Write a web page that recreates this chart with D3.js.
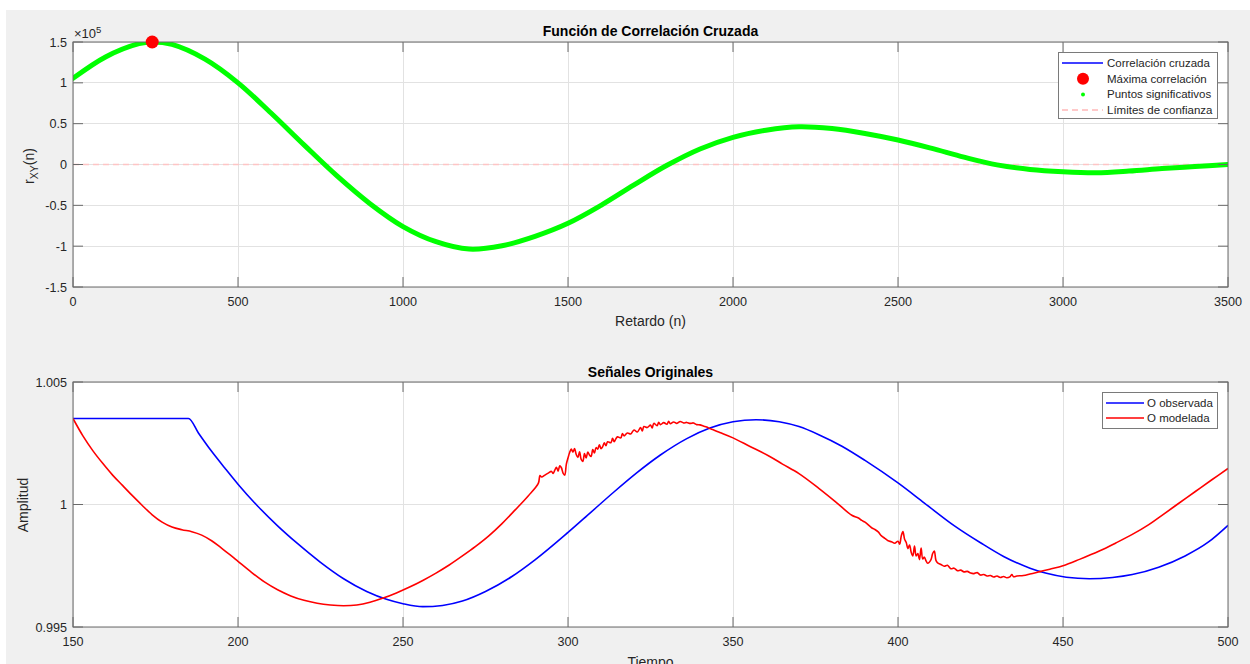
<!DOCTYPE html>
<html>
<head>
<meta charset="utf-8">
<script src="https://cdn.jsdelivr.net/npm/d3@7"></script>
<style>
  html, body { margin: 0; padding: 0; background: #ffffff; }
  svg { display: block; font-family: "Liberation Sans", Arial, Helvetica, sans-serif; }
</style>
</head>
<body>
<svg id="fig" width="1250" height="664"></svg>
<script>
// ---------- Cross-correlation r_XY(n) (units of 1e5) ----------
const corrLags = [0, 100, 200, 240, 300, 400, 500, 600, 700, 800, 900, 1000, 1100, 1200, 1300,
  1400, 1500, 1600, 1700, 1800, 1900, 2000, 2100, 2200, 2300, 2400, 2500, 2600, 2700, 2800,
  2900, 3000, 3100, 3200, 3300, 3400, 3500];
const corrValues = [1.055, 1.32, 1.48, 1.50, 1.47, 1.29, 1.00, 0.63, 0.24, -0.14, -0.48, -0.76,
  -0.945, -1.035, -0.995, -0.88, -0.72, -0.50, -0.25, -0.01, 0.19, 0.333, 0.42, 0.463, 0.44,
  0.38, 0.30, 0.20, 0.09, -0.005, -0.06, -0.088, -0.10, -0.08, -0.05, -0.025, 0.0];
const corrScale = 1e5;
const maxLag = 240;
const maxValue = 1.50;
const confLimits = [-0.003, 0.003];
const lagTicks = [0, 500, 1000, 1500, 2000, 2500, 3000, 3500];
const corrTicks = [-1.5, -1, -0.5, 0, 0.5, 1, 1.5];

// ---------- Original signals: [time, amplitude] ----------
const obsSignal = [
  [150, 1.00351], [185, 1.00351], [188, 1.00292], [192, 1.00217], [196, 1.00149], [200, 1.00083],
  [206, 0.99993], [212, 0.99913], [218, 0.99841], [225, 0.99764], [232, 0.99697], [239, 0.99645],
  [245, 0.99613], [250, 0.99595], [256, 0.99583], [262, 0.99588], [268, 0.99606], [275, 0.99645],
  [283, 0.99706], [290, 0.99774], [300, 0.99886], [307, 0.99969], [314, 1.00052], [321, 1.00131],
  [328, 1.00202], [336, 1.00269], [343, 1.00312], [350, 1.00338], [357, 1.00346], [364, 1.00338],
  [370, 1.00318], [376, 1.00285], [383, 1.00238], [390, 1.00180], [400, 1.00088], [408, 1.00006],
  [417, 0.99914], [425, 0.99844], [432, 0.99788], [440, 0.99740], [445, 0.99719], [451, 0.99703],
  [458, 0.99697], [465, 0.99702], [471, 0.99714], [479, 0.99744], [487, 0.99790], [494, 0.99846],
  [500, 0.99915]
];

const modSignal = [
  [150, 1.00351], [153, 1.00280], [156, 1.00220], [159, 1.00168], [162, 1.00120], [165, 1.00078],
  [168, 1.00036], [171, 0.99996], [174, 0.99958], [177, 0.99928], [180, 0.99908], [183, 0.99897],
  [186, 0.99889], [189, 0.99875], [192, 0.99852], [195, 0.99822], [198, 0.99790], [200, 0.99768],
  [204, 0.99724], [208, 0.99684], [212, 0.99652], [216, 0.99627], [220, 0.99609], [224, 0.99597],
  [228, 0.99590], [232, 0.99587], [236, 0.99590], [240, 0.99601], [244, 0.99618], [248, 0.99639],
  [252, 0.99663], [256, 0.99690], [260, 0.99720], [264, 0.99753], [268, 0.99790], [272, 0.99829],
  [276, 0.99872], [280, 0.99922], [284, 0.99978], [288, 1.00036], [291, 1.00086],
  // irregular stretch while the model climbs to its crest
  [291.5, 1.00118], [292, 1.00112], [293, 1.00120], [294, 1.00128], [295, 1.00135], [295.5, 1.00127],
  [296, 1.00140], [296.5, 1.00152], [297, 1.00136], [297.5, 1.00158], [298, 1.00150], [298.5, 1.00128],
  [299, 1.00120], [299.5, 1.00165], [300, 1.00190], [300.5, 1.00212], [301, 1.00226], [301.5, 1.00214],
  [302, 1.00228], [302.5, 1.00204], [303, 1.00192], [303.5, 1.00215], [304, 1.00184], [304.5, 1.00176],
  [305, 1.00208], [305.5, 1.00190], [306, 1.00214], [306.5, 1.00202], [307, 1.00196], [307.5, 1.00224],
  [308, 1.00210], [308.5, 1.00232], [309, 1.00226], [309.5, 1.00244], [310, 1.00228], [310.5, 1.00236],
  [311, 1.00252], [311.5, 1.00240], [312, 1.00256], [313, 1.00252], [313.5, 1.00270], [314, 1.00256],
  [314.5, 1.00268], [315, 1.00276], [316, 1.00272], [316.5, 1.00290], [317, 1.00280], [318, 1.00292],
  [319, 1.00288], [320, 1.00304], [321, 1.00296], [322, 1.00314], [322.5, 1.00300], [323, 1.00318],
  [324, 1.00314], [325, 1.00324], [325.5, 1.00312], [326, 1.00331], [327, 1.00322], [327.5, 1.00336],
  [328, 1.00326], [329, 1.00334], [330, 1.00328], [330.5, 1.00340], [331, 1.00330], [332, 1.00337],
  [333, 1.00331], [334, 1.00339], [335, 1.00333], [336, 1.00335], [337, 1.00331], [338, 1.00333],
  [339, 1.00326], [340, 1.00325], [341, 1.00320], [342, 1.00316], [343, 1.00310], [344, 1.00305],
  [346, 1.00294], [350, 1.00272], [355, 1.00238], [361, 1.00197], [365, 1.00165], [370, 1.00126],
  [376, 1.00066], [381, 1.00012], [386, 0.99956], [388, 0.99945], [389, 0.99935], [390, 0.99928],
  // irregular stretch on the way down
  [392, 0.99905], [393, 0.99898], [394, 0.99888], [395, 0.99872], [396, 0.99862], [397, 0.99852],
  [398, 0.99848], [399, 0.99842], [400, 0.99850], [400.5, 0.99838], [401, 0.99872], [401.5, 0.99890],
  [402, 0.99858], [402.5, 0.99845], [403, 0.99820], [403.5, 0.99835], [404, 0.99805], [404.5, 0.99790],
  [405, 0.99830], [405.5, 0.99790], [406, 0.99800], [406.5, 0.99775], [407, 0.99822], [407.5, 0.99778],
  [408, 0.99785], [408.5, 0.99770], [409, 0.99760], [410, 0.99775], [410.5, 0.99800], [411, 0.99810],
  [411.5, 0.99772], [412, 0.99762], [413, 0.99755], [414, 0.99748], [415, 0.99752], [416, 0.99738],
  [417, 0.99740], [418, 0.99730], [419, 0.99732], [420, 0.99725], [421, 0.99727], [422, 0.99720],
  [423, 0.99718], [424, 0.99722], [425, 0.99712], [426, 0.99714], [427, 0.99708], [428, 0.99710],
  [429, 0.99704], [430, 0.99708], [431, 0.99702], [432, 0.99706], [433, 0.99701], [434, 0.99706],
  [434.5, 0.99714], [435, 0.99705], [436, 0.99708], [438, 0.99710], [440, 0.99716], [443, 0.99726],
  [446, 0.99736], [450, 0.99750], [455, 0.99776], [461, 0.99810], [466, 0.99843], [471, 0.99878],
  [476, 0.99918], [480, 0.99956], [485, 1.00004], [490, 1.00052], [495, 1.00100], [500, 1.00147]
];
const timeTicks = [150, 200, 250, 300, 350, 400, 450, 500];
const ampTicks = [0.995, 1, 1.005];

// ---------- Figure ----------
const W = 1250, H = 664;
const svg = d3.select("#fig");
svg.append("rect").attr("x", 6).attr("y", 10).attr("width", W - 6).attr("height", H - 10)
  .attr("fill", "#f0f0f0");

const AXIS_COLOR = "#6a6a6a";
const GRID_COLOR = "#e2e2e2";
const TEXT_COLOR = "#262626";
const TICK_FONT = 12.6;
const TICK_LEN = 10;

function drawAxes(box, x, y, xTicks, yTicks, xFmt, yFmt, id) {
  const g = svg.append("g");
  g.append("rect").attr("x", box.x0).attr("y", box.y0)
    .attr("width", box.x1 - box.x0).attr("height", box.y1 - box.y0).attr("fill", "#ffffff");
  // grid
  g.selectAll(".gx").data(xTicks).join("line")
    .attr("x1", d => x(d)).attr("x2", d => x(d)).attr("y1", box.y0).attr("y2", box.y1)
    .attr("stroke", GRID_COLOR).attr("stroke-width", 1).attr("shape-rendering", "crispEdges");
  g.selectAll(".gy").data(yTicks).join("line")
    .attr("y1", d => y(d)).attr("y2", d => y(d)).attr("x1", box.x0).attr("x2", box.x1)
    .attr("stroke", GRID_COLOR).attr("stroke-width", 1).attr("shape-rendering", "crispEdges");
  svg.append("clipPath").attr("id", id).append("rect")
    .attr("x", box.x0).attr("y", box.y0).attr("width", box.x1 - box.x0).attr("height", box.y1 - box.y0);
  const plot = svg.append("g").attr("clip-path", `url(#${id})`);
  const frame = svg.append("g");
  frame.append("rect").attr("x", box.x0).attr("y", box.y0)
    .attr("width", box.x1 - box.x0).attr("height", box.y1 - box.y0)
    .attr("fill", "none").attr("stroke", AXIS_COLOR).attr("stroke-width", 1);
  // inward ticks on all four sides
  xTicks.forEach(t => {
    frame.append("line").attr("x1", x(t)).attr("x2", x(t)).attr("y1", box.y1).attr("y2", box.y1 - TICK_LEN)
      .attr("stroke", AXIS_COLOR);
    frame.append("line").attr("x1", x(t)).attr("x2", x(t)).attr("y1", box.y0).attr("y2", box.y0 + TICK_LEN)
      .attr("stroke", AXIS_COLOR);
  });
  yTicks.forEach(t => {
    frame.append("line").attr("y1", y(t)).attr("y2", y(t)).attr("x1", box.x0).attr("x2", box.x0 + TICK_LEN)
      .attr("stroke", AXIS_COLOR);
    frame.append("line").attr("y1", y(t)).attr("y2", y(t)).attr("x1", box.x1).attr("x2", box.x1 - TICK_LEN)
      .attr("stroke", AXIS_COLOR);
  });
  frame.selectAll(".xl").data(xTicks).join("text")
    .attr("x", d => x(d)).attr("y", box.y1 + 19).attr("text-anchor", "middle")
    .attr("font-size", TICK_FONT).attr("fill", TEXT_COLOR).text(xFmt);
  frame.selectAll(".yl").data(yTicks).join("text")
    .attr("x", box.x0 - 6).attr("y", d => y(d) + 4.5).attr("text-anchor", "end")
    .attr("font-size", TICK_FONT).attr("fill", TEXT_COLOR).text(yFmt);
  return { plot, frame };
}

function addTitle(text, cx, yBase) {
  svg.append("text").attr("x", cx).attr("y", yBase).attr("text-anchor", "middle")
    .attr("font-size", 14).attr("font-weight", "bold").attr("fill", "#000").text(text);
}

// ---------- Top: cross-correlation ----------
const box1 = { x0: 73, x1: 1228, y0: 42, y1: 287 };
const x1 = d3.scaleLinear().domain([0, 3500]).range([box1.x0, box1.x1]);
const y1 = d3.scaleLinear().domain([-1.5 * corrScale, 1.5 * corrScale]).range([box1.y1, box1.y0]);
const ax1 = drawAxes(box1, x1, y1, lagTicks, corrTicks.map(v => v * corrScale),
  d => String(d), d => String(+(d / corrScale).toFixed(1)), "clipTop");

const corrData = corrLags.map((l, i) => ({ x: l, y: corrValues[i] * corrScale }));
const corrLine = d3.line().x(d => x1(d.x)).y(d => y1(d.y)).curve(d3.curveCatmullRom.alpha(0.5));

confLimits.forEach(c => {
  ax1.plot.append("line").attr("x1", box1.x0).attr("x2", box1.x1)
    .attr("y1", y1(c * corrScale)).attr("y2", y1(c * corrScale))
    .attr("stroke", "#ffc4c4").attr("stroke-width", 1.2).attr("stroke-dasharray", "6,4");
});
ax1.plot.append("path").datum(corrData).attr("d", corrLine)
  .attr("fill", "none").attr("stroke", "#0000ff").attr("stroke-width", 1.5);
ax1.plot.append("path").datum(corrData).attr("d", corrLine)
  .attr("fill", "none").attr("stroke", "#00ff00").attr("stroke-width", 5)
  .attr("stroke-linecap", "round").attr("stroke-linejoin", "round");
svg.append("circle").attr("cx", x1(maxLag)).attr("cy", y1(maxValue * corrScale)).attr("r", 6.5)
  .attr("fill", "#ff0000");

// exponent label
const expo = svg.append("text").attr("x", 74).attr("y", 38).attr("font-size", 13)
  .attr("fill", TEXT_COLOR);
expo.append("tspan").text("\u00d710");
expo.append("tspan").attr("font-size", 9.5).attr("dy", -5.5).text("5");

addTitle("Función de Correlación Cruzada", (box1.x0 + box1.x1) / 2, 36);
svg.append("text").attr("x", (box1.x0 + box1.x1) / 2).attr("y", 326).attr("text-anchor", "middle")
  .attr("font-size", 14).attr("fill", TEXT_COLOR).text("Retardo (n)");
const yl1 = svg.append("text").attr("transform", "translate(34,166) rotate(-90)")
  .attr("text-anchor", "middle").attr("font-size", 14).attr("fill", TEXT_COLOR);
yl1.append("tspan").text("r");
yl1.append("tspan").attr("font-size", 10.5).attr("dy", 4).text("XY");
yl1.append("tspan").attr("dy", -4).text("(n)");

// legend (top)
const leg1 = svg.append("g");
leg1.append("rect").attr("x", 1058.5).attr("y", 52.5).attr("width", 159).attr("height", 66)
  .attr("fill", "#fff").attr("stroke", "#7a7a7a").attr("stroke-width", 1);
const legRows1 = [
  { label: "Correlación cruzada", kind: "line", color: "#0000ff" },
  { label: "Máxima correlación", kind: "bigdot", color: "#ff0000" },
  { label: "Puntos significativos", kind: "dot", color: "#00ff00" },
  { label: "Límites de confianza", kind: "dash", color: "#ffb8b8" }
];
legRows1.forEach((r, i) => {
  const cy = 63 + i * 15.7;
  if (r.kind === "line") leg1.append("line").attr("x1", 1062).attr("x2", 1103).attr("y1", cy).attr("y2", cy)
    .attr("stroke", r.color).attr("stroke-width", 1.5);
  if (r.kind === "dash") leg1.append("line").attr("x1", 1062).attr("x2", 1103).attr("y1", cy).attr("y2", cy)
    .attr("stroke", r.color).attr("stroke-width", 1.5).attr("stroke-dasharray", "6,4");
  if (r.kind === "bigdot") leg1.append("circle").attr("cx", 1083).attr("cy", cy).attr("r", 6)
    .attr("fill", r.color);
  if (r.kind === "dot") leg1.append("circle").attr("cx", 1083).attr("cy", cy).attr("r", 2)
    .attr("fill", r.color);
  leg1.append("text").attr("x", 1107).attr("y", cy + 4).attr("font-size", 11.5)
    .attr("fill", TEXT_COLOR).text(r.label);
});

// ---------- Bottom: original signals ----------
const box2 = { x0: 73, x1: 1228, y0: 382, y1: 627 };
const x2 = d3.scaleLinear().domain([150, 500]).range([box2.x0, box2.x1]);
const y2 = d3.scaleLinear().domain([0.995, 1.005]).range([box2.y1, box2.y0]);
const ax2 = drawAxes(box2, x2, y2, timeTicks, ampTicks, d => String(d), d => String(d), "clipBottom");

// observed signal holds a flat plateau, so use a non-overshooting curve for it
const obsLine = d3.line().x(d => x2(d[0])).y(d => y2(d[1])).curve(d3.curveMonotoneX);
const modLine = d3.line().x(d => x2(d[0])).y(d => y2(d[1])).curve(d3.curveCatmullRom.alpha(0.5));
ax2.plot.append("path").datum(obsSignal).attr("d", obsLine)
  .attr("fill", "none").attr("stroke", "#0000ff").attr("stroke-width", 1.6);
ax2.plot.append("path").datum(modSignal).attr("d", modLine)
  .attr("fill", "none").attr("stroke", "#ff0000").attr("stroke-width", 1.6)
  .attr("stroke-linejoin", "round");

addTitle("Señales Originales", (box2.x0 + box2.x1) / 2, 377);
svg.append("text").attr("x", (box2.x0 + box2.x1) / 2).attr("y", 667).attr("text-anchor", "middle")
  .attr("font-size", 14).attr("fill", TEXT_COLOR).text("Tiempo");
svg.append("text").attr("transform", "translate(28,505) rotate(-90)")
  .attr("text-anchor", "middle").attr("font-size", 14).attr("fill", TEXT_COLOR).text("Amplitud");

// legend (bottom)
const leg2 = svg.append("g");
leg2.append("rect").attr("x", 1102.5).attr("y", 392.5).attr("width", 115).attr("height", 36)
  .attr("fill", "#fff").attr("stroke", "#7a7a7a").attr("stroke-width", 1);
[{ label: "O observada", color: "#0000ff" }, { label: "O modelada", color: "#ff0000" }].forEach((r, i) => {
  const cy = 403 + i * 15;
  leg2.append("line").attr("x1", 1106).attr("x2", 1144).attr("y1", cy).attr("y2", cy)
    .attr("stroke", r.color).attr("stroke-width", 1.6);
  leg2.append("text").attr("x", 1147).attr("y", cy + 4).attr("font-size", 11.5)
    .attr("fill", TEXT_COLOR).text(r.label);
});
</script>
</body>
</html>
